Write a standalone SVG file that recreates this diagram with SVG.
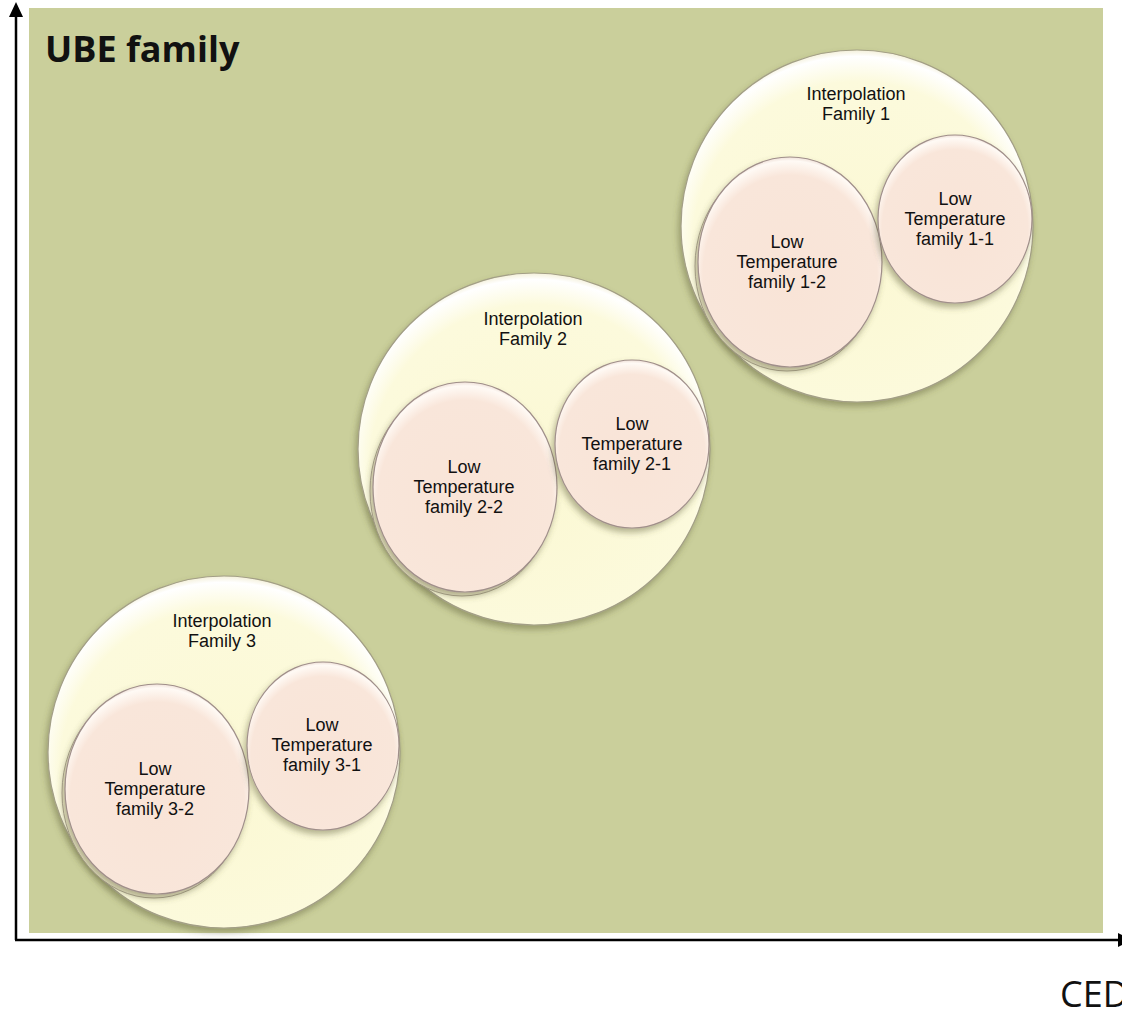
<svg xmlns="http://www.w3.org/2000/svg" width="1122" height="1011" viewBox="0 0 1122 1011">
<defs>
<style>
.big{fill:url(#gBig);stroke:#a39f86;stroke-width:1.2}
.small{fill:url(#gSmall);stroke:#a08f8a;stroke-width:1.2}
.rim{fill:#f6f1d2;stroke:#b0a894;stroke-width:1}
.lbl{font-family:"Liberation Sans",Arial,sans-serif;font-size:18px;fill:#111;text-anchor:middle}
.axis{stroke:#000;stroke-width:2.5;fill:none}
</style>
<radialGradient id="gBig" cx="0.5" cy="0.55" r="0.55" fx="0.5" fy="0.6">
<stop offset="0" stop-color="#fbf8d3"/>
<stop offset="0.85" stop-color="#fcfadc"/>
<stop offset="0.97" stop-color="#ffffff"/>
<stop offset="1" stop-color="#f4f0da"/>
</radialGradient>
<radialGradient id="gSmall" cx="0.5" cy="0.55" r="0.55" fx="0.5" fy="0.62">
<stop offset="0" stop-color="#f9e4d7"/>
<stop offset="0.86" stop-color="#f9e6da"/>
<stop offset="0.97" stop-color="#fffaf5"/>
<stop offset="1" stop-color="#efe0d8"/>
</radialGradient>
<filter id="sh" x="-20%" y="-20%" width="140%" height="140%">
<feDropShadow dx="-2" dy="4" stdDeviation="3" flood-color="#5a5a30" flood-opacity="0.45"/>
</filter>
</defs>
<rect x="0" y="0" width="1122" height="1011" fill="#ffffff"/>
<rect x="29" y="8" width="1074" height="925" fill="#cacf9b"/>
<g id="connectors">
<path d="M16,940 L16,17" class="axis"/>
<path d="M9,17 L16,2 L23,17 z" fill="#000"/>
<path d="M15,940 L1118,940" class="axis"/>
<path d="M1118,933 L1132,940 L1118,947 z" fill="#000"/>
</g>
<text x="45" y="62" font-family="'Open Sans','Noto Sans',sans-serif" font-weight="bold" font-size="36" fill="#111">UBE family</text>
<text x="1060" y="1007" font-family="'Open Sans','Noto Sans',sans-serif" font-size="36" fill="#111">CED</text>

<g id="family1">
<circle cx="857" cy="226" r="176" class="big" filter="url(#sh)"/>
<text class="lbl" x="856" y="100">Interpolation</text>
<text class="lbl" x="856" y="120">Family 1</text>
<g id="lt1-2">
<ellipse cx="787" cy="266" rx="92" ry="105" class="rim"/>
<ellipse cx="790" cy="262" rx="92" ry="105" class="small" filter="url(#sh)"/>
<text class="lbl" x="787" y="248">Low</text>
<text class="lbl" x="787" y="268">Temperature</text>
<text class="lbl" x="787" y="288">family 1-2</text>
</g>
<g id="lt1-1">
<ellipse cx="955" cy="219" rx="77" ry="84" class="small" filter="url(#sh)"/>
<text class="lbl" x="955" y="205">Low</text>
<text class="lbl" x="955" y="225">Temperature</text>
<text class="lbl" x="955" y="245">family 1-1</text>
</g>
</g>

<g id="family2">
<circle cx="534" cy="449" r="176" class="big" filter="url(#sh)"/>
<text class="lbl" x="533" y="325">Interpolation</text>
<text class="lbl" x="533" y="345">Family 2</text>
<g id="lt2-2">
<ellipse cx="462" cy="491" rx="92" ry="105" class="rim"/>
<ellipse cx="465" cy="487" rx="92" ry="105" class="small" filter="url(#sh)"/>
<text class="lbl" x="464" y="473">Low</text>
<text class="lbl" x="464" y="493">Temperature</text>
<text class="lbl" x="464" y="513">family 2-2</text>
</g>
<g id="lt2-1">
<ellipse cx="632" cy="444" rx="77" ry="84" class="small" filter="url(#sh)"/>
<text class="lbl" x="632" y="430">Low</text>
<text class="lbl" x="632" y="450">Temperature</text>
<text class="lbl" x="632" y="470">family 2-1</text>
</g>
</g>

<g id="family3">
<circle cx="224" cy="752" r="176" class="big" filter="url(#sh)"/>
<text class="lbl" x="222" y="627">Interpolation</text>
<text class="lbl" x="222" y="647">Family 3</text>
<g id="lt3-2">
<ellipse cx="154" cy="793" rx="92" ry="105" class="rim"/>
<ellipse cx="157" cy="789" rx="92" ry="105" class="small" filter="url(#sh)"/>
<text class="lbl" x="155" y="775">Low</text>
<text class="lbl" x="155" y="795">Temperature</text>
<text class="lbl" x="155" y="815">family 3-2</text>
</g>
<g id="lt3-1">
<ellipse cx="323" cy="746" rx="76" ry="84" class="small" filter="url(#sh)"/>
<text class="lbl" x="322" y="731">Low</text>
<text class="lbl" x="322" y="751">Temperature</text>
<text class="lbl" x="322" y="771">family 3-1</text>
</g>
</g>
</svg>
